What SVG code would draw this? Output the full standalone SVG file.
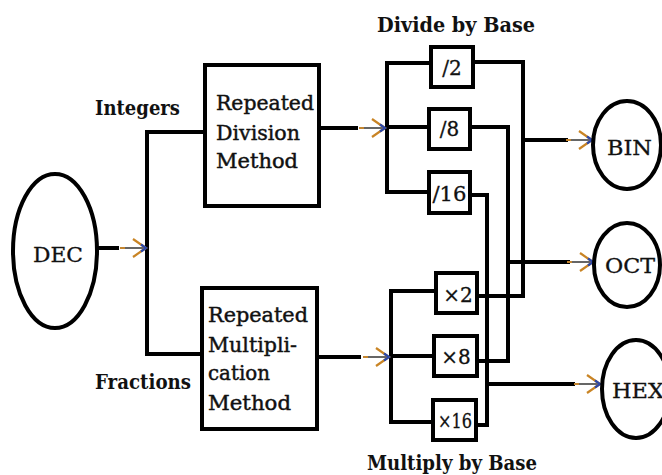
<svg xmlns="http://www.w3.org/2000/svg" xmlns:xlink="http://www.w3.org/1999/xlink" width="662" height="475" viewBox="0 0 662 475">
  <style>
    .wire { fill: none; stroke: #000; stroke-width: 4; stroke-linejoin: miter; stroke-linecap: butt; }
    .box { fill: #fff; stroke: #000; stroke-width: 4; }
    .oval { fill: #fff; stroke: #000; stroke-width: 4; }
    .bold { font-weight: bold; font-size: 20px; }
    .body { font-size: 20.5px; stroke: #111; stroke-width: 0.45; }
    .node { font-size: 19.5px; stroke: #111; stroke-width: 0.3; }
    .op { font-size: 20px; stroke: #111; stroke-width: 0.3; }
  </style>
  <defs>
    <!-- text-style arrow, tip at the origin -->
    <g id="arrow">
      <line x1="-26" y1="0" x2="-2" y2="0" stroke="#555" stroke-width="1.8"/>
      <line x1="-26" y1="0" x2="-21" y2="0" stroke="#d08a2a" stroke-width="1.8"/>
      <path d="M-13,-9 L0,0 L-13,9" fill="none" stroke="#c98424" stroke-width="2.2"/>
      <path d="M-5,-3.5 L0,0 L-5,3.5" fill="none" stroke="#2d48a8" stroke-width="2.2"/>
    </g>
  </defs>

  <rect width="662" height="475" fill="#fff"/>

  <!-- connectors -->
  <g id="connectors">
    <!-- DEC split into integer and fraction parts -->
    <path class="wire" d="M97,248 H119"/>
    <path class="wire" d="M205,132 H147 V354 H202"/>
    <!-- division branch -->
    <path class="wire" d="M319,128 H358"/>
    <path class="wire" d="M431,63 H387 V192 H429 M387,127 H429"/>
    <!-- multiplication branch -->
    <path class="wire" d="M317,357 H361"/>
    <path class="wire" d="M436,291 H391 V422 H433 M391,356 H434"/>
    <!-- base 2 / 8 / 16 merges -->
    <path class="wire" d="M473,62 H523 V296 H477"/>
    <path class="wire" d="M470,127 H508 V361 H477"/>
    <path class="wire" d="M470,195 H487 V425 H476"/>
    <path class="wire" d="M523,140 H568"/>
    <path class="wire" d="M508,262 H570"/>
    <path class="wire" d="M487,384 H575"/>
    <use xlink:href="#arrow" x="146" y="248"/>
    <use xlink:href="#arrow" x="385" y="128"/>
    <use xlink:href="#arrow" x="389" y="357"/>
    <use xlink:href="#arrow" x="592" y="140"/>
    <use xlink:href="#arrow" x="593" y="262"/>
    <use xlink:href="#arrow" x="600" y="384"/>
  </g>

  <g font-family="DejaVu Serif" fill="#111">
    <!-- side labels -->
    <text class="bold" x="95" y="115" textLength="85" lengthAdjust="spacingAndGlyphs">Integers</text>
    <text class="bold" x="95" y="389" textLength="96" lengthAdjust="spacingAndGlyphs">Fractions</text>
    <text class="bold" x="377" y="32" textLength="158" lengthAdjust="spacingAndGlyphs">Divide by Base</text>
    <text class="bold" x="367" y="470" textLength="170" lengthAdjust="spacingAndGlyphs">Multiply by Base</text>

    <g id="dec">
      <ellipse class="oval" cx="55" cy="251" rx="42" ry="77"/>
      <text class="node" x="33" y="262" textLength="50" lengthAdjust="spacingAndGlyphs">DEC</text>
    </g>

    <g id="division-method">
      <rect class="box" x="205" y="65" width="114" height="141"/>
      <text class="body" x="216" y="110" textLength="98" lengthAdjust="spacingAndGlyphs">Repeated</text>
      <text class="body" x="216" y="140" textLength="84" lengthAdjust="spacingAndGlyphs">Division</text>
      <text class="body" x="216" y="168" textLength="82" lengthAdjust="spacingAndGlyphs">Method</text>
    </g>

    <g id="multiplication-method">
      <rect class="box" x="202" y="288" width="115" height="141"/>
      <text class="body" x="208" y="322" textLength="100" lengthAdjust="spacingAndGlyphs">Repeated</text>
      <text class="body" x="208" y="352" textLength="89" lengthAdjust="spacingAndGlyphs">Multipli-</text>
      <text class="body" x="208" y="380" textLength="62" lengthAdjust="spacingAndGlyphs">cation</text>
      <text class="body" x="208" y="410" textLength="83" lengthAdjust="spacingAndGlyphs">Method</text>
    </g>

    <g id="div2">
      <rect class="box" x="431" y="47" width="42" height="40"/>
      <text class="op" x="452" y="75" text-anchor="middle">/2</text>
    </g>
    <g id="div8">
      <rect class="box" x="429" y="109" width="41" height="40"/>
      <text class="op" x="449.5" y="136" text-anchor="middle">/8</text>
    </g>
    <g id="div16">
      <rect class="box" x="429" y="172" width="41" height="41"/>
      <text class="op" x="449.5" y="201" text-anchor="middle" textLength="34" lengthAdjust="spacingAndGlyphs">/16</text>
    </g>

    <g id="mul2">
      <rect class="box" x="436" y="273" width="41" height="40"/>
      <text class="op" x="458" y="302" text-anchor="middle">×2</text>
    </g>
    <g id="mul8">
      <rect class="box" x="434" y="336" width="43" height="40"/>
      <text class="op" x="456" y="364" text-anchor="middle">×8</text>
    </g>
    <g id="mul16">
      <rect class="box" x="433" y="400" width="43" height="40"/>
      <text class="op" x="455" y="428" text-anchor="middle" textLength="34" lengthAdjust="spacingAndGlyphs">×16</text>
    </g>

    <g id="bin">
      <ellipse class="oval" cx="627" cy="145" rx="34" ry="44"/>
      <text class="node" x="607" y="155" textLength="45" lengthAdjust="spacingAndGlyphs">BIN</text>
    </g>
    <g id="oct">
      <ellipse class="oval" cx="627" cy="265" rx="33" ry="42"/>
      <text class="node" x="605" y="273" textLength="50" lengthAdjust="spacingAndGlyphs">OCT</text>
    </g>
    <g id="hex">
      <ellipse class="oval" cx="636" cy="389" rx="34" ry="49"/>
      <text class="node" x="612" y="398" textLength="52" lengthAdjust="spacingAndGlyphs">HEX</text>
    </g>
  </g>
</svg>
